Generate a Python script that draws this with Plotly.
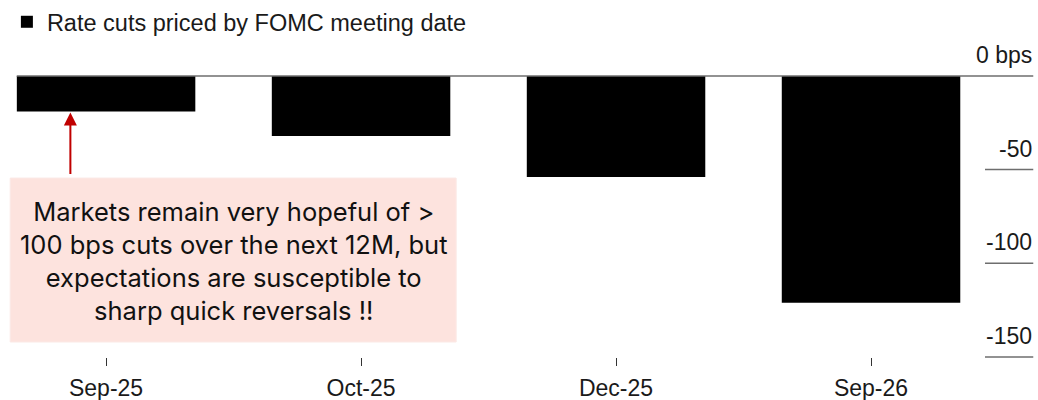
import plotly.graph_objects as go

# ── Data ──────────────────────────────────────────────────────────────────────
MEETINGS = ["Sep-25", "Oct-25", "Dec-25", "Sep-26"]
CUTS_BPS = [-19, -32, -54, -121]

Y_TICKS = [0, -50, -100, -150]
Y_TICK_TEXT = ["0 bps", "-50", "-100", "-150"]

SERIES_NAME = "Rate cuts priced by FOMC meeting date"
NOTE = ("Markets remain very hopeful of ><br>100 bps cuts over the next 12M, but"
        "<br>expectations are susceptible to<br>sharp quick reversals !!")

# ── Style ─────────────────────────────────────────────────────────────────────
BAR_COLOR = "#000000"
TEXT_COLOR = "#1a1a1a"
LINE_COLOR = "#6e6e6e"
NOTE_FILL = "#fde3de"
ARROW_RED = "#c00000"
FONT = "Liberation Sans, Arial, sans-serif"

fig = go.Figure()
fig.add_trace(go.Bar(
    x=MEETINGS,
    y=CUTS_BPS,
    name=SERIES_NAME,
    width=0.70,
    marker=dict(color=BAR_COLOR, line=dict(width=0)),
    showlegend=True,
))

# zero line across the whole chart plus short right-side tick lines
fig.add_shape(type="line", xref="paper", yref="y", x0=0.017, x1=1.049,
              y0=0, y1=0, line=dict(color=LINE_COLOR, width=1.5), layer="above")
for v, t in zip(Y_TICKS, Y_TICK_TEXT):
    if v != 0:
        fig.add_shape(type="line", xref="paper", yref="y", x0=1.0, x1=1.049,
                      y0=v, y1=v, line=dict(color=LINE_COLOR, width=1.5))
    fig.add_annotation(text=t, xref="paper", yref="y", x=1.050, y=v,
                       xanchor="right", yanchor="middle", yshift=21,
                       showarrow=False,
                       font=dict(family=FONT, size=23, color=TEXT_COLOR))

# note box and arrow
fig.add_shape(type="rect", xref="x", yref="y", x0=-0.376, x1=1.373,
              y0=-54.5, y1=-142, fillcolor=NOTE_FILL,
              line=dict(color="#fbe9e6", width=1), layer="above")
fig.add_annotation(text=NOTE, xref="x", yref="y", x=0.498, y=-99,
                   showarrow=False, align="center",
                   font=dict(family="Inter, Noto Sans, sans-serif", size=25.5,
                             color="#111111"))
fig.add_annotation(text="", xref="x", yref="y", x=-0.14, y=CUTS_BPS[0],
                   ax=0, ay=64, showarrow=True, arrowhead=2, arrowsize=1.3,
                   arrowwidth=2, arrowcolor=ARROW_RED, standoff=1)

fig.update_layout(
    width=1038, height=400,
    paper_bgcolor="white", plot_bgcolor="white",
    margin=dict(l=0, r=53, t=66, b=34),
    bargap=0.3,
    legend=dict(
        orientation="h", x=0.007, y=1.147, xanchor="left", yanchor="middle",
        font=dict(family=FONT, size=23.5, color=TEXT_COLOR),
        bgcolor="rgba(0,0,0,0)", itemclick=False,
    ),
    xaxis=dict(
        range=[-0.416, 3.447],
        showgrid=False, showline=False, zeroline=False,
        ticks="inside", ticklen=8, tickwidth=1, tickcolor="#333333",
        tickfont=dict(family=FONT, size=23, color=TEXT_COLOR),
        ticklabelstandoff=6,
    ),
    yaxis=dict(
        range=[-154.8, 5.3],
        showgrid=False, showline=False, zeroline=False,
        showticklabels=False, ticks="",
    ),
)

fig.write_html("out.html", config={"displayModeBar": False},
               post_script="document.body.style.margin='0px';")
